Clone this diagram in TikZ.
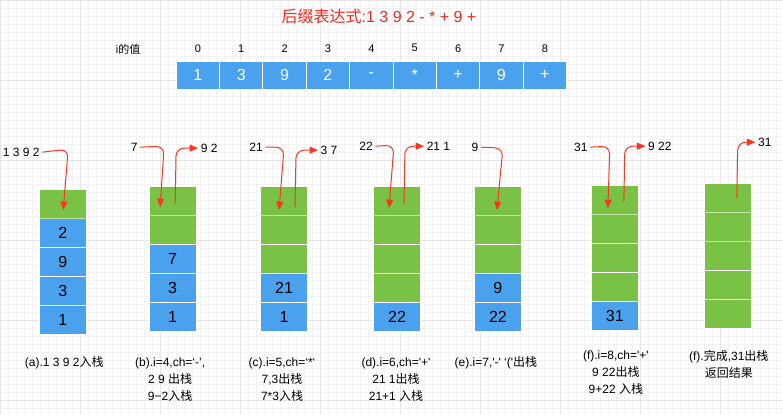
\documentclass[tikz,border=0pt]{standalone}
\usepackage{fontspec}
\newfontfamily\cjk{Noto Sans CJK SC}
\newfontfamily\lat{Liberation Sans}
\newcommand{\zh}[1]{{\cjk #1}}
\usetikzlibrary{arrows.meta}

\definecolor{cellblue}{RGB}{74,161,238}
\definecolor{cellgreen}{RGB}{122,194,70}
\definecolor{sepgreen}{RGB}{196,228,166}
\definecolor{arrowred}{RGB}{250,55,30}
\definecolor{titlered}{RGB}{245,40,30}

\begin{document}
\begin{tikzpicture}[x=1pt, y=-1pt,
  every node/.style={font=\lat\fontsize{12}{17}\selectfont, inner sep=0pt},
  arrcell/.style={draw=white, line width=1pt, fill=cellblue, text=white,
    minimum width=43.4pt, minimum height=28pt, font=\lat\fontsize{16}{16}\selectfont},
  cell/.style={draw=white, line width=1pt, minimum width=47pt, minimum height=29pt,
    font=\lat\fontsize{16}{16}\selectfont},
  idx/.style={font=\lat\fontsize{11}{11}\selectfont},
  lbl/.style={inner xsep=2.5pt},
  sep/.style={sepgreen, line width=1pt},
  flow/.style={arrowred, line width=1pt, rounded corners=8pt,
    -{Triangle[length=8.5pt,width=7pt]}},
  caption/.style={align=center},
]

%% =============== Background grid ===============
\fill[white] (0,0) rectangle (783,414);
\draw[black!5, line width=0.4pt, step=8pt] (0,414) grid (783,0);
\draw[black!10, line width=0.5pt, step=80pt] (0,414) grid (783,0);
\useasboundingbox (0,0) rectangle (783,414);

%% =============== Title and input array ===============
\node[font=\lat\fontsize{16}{16}\selectfont, text=titlered] (title) at (379,16)
  {\zh{后缀表达式}:1 3 9 2 - * + 9 +};

\node[idx] (ilabel) at (128,49) {i\zh{的值}};
\foreach \v [count=\i from 0] in {1,3,9,2,-,*,+,9,+} {
  \node[arrcell] (arr\i) at ({197.7+43.4*\i},75) {\v};
  \node[idx] (idx\i) at ({197.7+43.4*\i},48) {\i};
}

%% =============== (a) push 1 3 9 2 ===============
\foreach \col/\val [count=\i] in {cellgreen/{},cellblue/2,cellblue/9,cellblue/3,cellblue/1}
  \node[cell, fill=\col] (a\i) at (62.5,{174.5+29*\i}) {\val};
\draw[sep] (a1.south west) -- (a1.south east);

\node[lbl] (inA) at (21,152) {1 3 9 2};
\coordinate (aTip) at (63,210);
\draw[flow] (inA.east) -- (68,149) -- (aTip);

\node[caption] (capA) at (64,363) {(a).1 3 9 2\zh{入栈}};

%% =============== (b) i=4, ch='-' ===============
\foreach \col/\val [count=\i] in {cellgreen/{},cellgreen/{},cellblue/7,cellblue/3,cellblue/1}
  \node[cell, fill=\col] (b\i) at (172.5,{171.5+29*\i}) {\val};
\draw[sep] (b1.south west) -- (b1.south east);

\node[lbl] (inB) at (134,147) {7};
\node[lbl] (outB) at (209,148) {9 2};
\coordinate (bTip) at (160,207);
\coordinate (bOut) at (175,204);
\draw[flow] (inB.east) -- (164,146) -- (bTip);
\draw[flow] (bOut) -- (176,148) -- (outB.west);

\node[caption] (capB) at (170,380) {(b).i=4,ch=‘-’,\\2 9 \zh{出栈}\\9−2\zh{入栈}};

%% =============== (c) i=5, ch='*' ===============
\foreach \col/\val [count=\i] in {cellgreen/{},cellgreen/{},cellgreen/{},cellblue/21,cellblue/1}
  \node[cell, fill=\col] (c\i) at (284,{171.5+29*\i}) {\val};
\draw[sep] (c1.south west) -- (c1.south east);

\node[lbl] (inC) at (256,147) {21};
\node[lbl] (outC) at (329,150) {3 7};
\coordinate (cTip) at (279,210);
\coordinate (cOut) at (295,207);
\draw[flow] (inC.east) -- (284,147) -- (cTip);
\draw[flow] (cOut) -- (296,150) -- (outC.west);

\node[caption] (capC) at (282,380) {(c).i=5,ch=‘*‘\\7,3\zh{出栈}\\7*3\zh{入栈}};

%% =============== (d) i=6, ch='+' ===============
\foreach \col/\val [count=\i] in {cellgreen/{},cellgreen/{},cellgreen/{},cellgreen/{},cellblue/22}
  \node[cell, fill=\col] (d\i) at (397,{171.5+29*\i}) {\val};
\draw[sep] (d1.south west) -- (d1.south east);

\node[lbl] (inD) at (366,146) {22};
\node[lbl] (outD) at (438.5,146) {21 1};
\coordinate (dTip) at (389,208);
\coordinate (dOut) at (404,204);
\draw[flow] (inD.east) -- (394,145) -- (dTip);
\draw[flow] (dOut) -- (405,146) -- (outD.west);

\node[caption] (capD) at (396,380) {(d).i=6,ch='+'\\21 1\zh{出栈}\\21+1 \zh{入栈}};

%% =============== (e) i=7 ===============
\foreach \col/\val [count=\i] in {cellgreen/{},cellgreen/{},cellgreen/{},cellblue/9,cellblue/22}
  \node[cell, fill=\col] (e\i) at (498,{171.5+29*\i}) {\val};
\draw[sep] (e1.south west) -- (e1.south east);

\node[lbl] (inE) at (475,147) {9};
\coordinate (eTip) at (497,210);
\draw[flow] (inE.east) -- (503,148) -- (eTip);

\node[caption] (capE) at (496,363) {(e).i=7,'-' ‘('\zh{出栈}};

%% =============== (f) i=8, ch='+' ===============
\foreach \col/\val [count=\i] in {cellgreen/{},cellgreen/{},cellgreen/{},cellgreen/{},cellblue/31}
  \node[cell, fill=\col] (f\i) at (615,{170.5+29*\i}) {\val};
\draw[sep] (f1.south west) -- (f1.south east);

\node[lbl] (inF) at (581,147) {31};
\node[lbl] (outF) at (660,146) {9 22};
\coordinate (fTip) at (608,208);
\coordinate (fOut) at (624,202);
\draw[flow] (inF.east) -- (610,146) -- (fTip);
\draw[flow] (fOut) -- (625,146) -- (outF.west);

\node[caption] (capF) at (616,373) {(f).i=8,ch='+'\\9 22\zh{出栈}\\9+22 \zh{入栈}};

%% =============== (g) done, pop result ===============
\foreach \val [count=\i] in {{},{},{},{},{}}
  \node[cell, fill=cellgreen] (g\i) at (728,{168.5+29*\i}) {\val};
\draw[sep] (g1.south west) -- (g1.south east);
\draw[sep] (g2.south west) -- (g2.south east);

\node[lbl] (outG) at (765,142) {31};
\coordinate (gOut) at (737,198);
\draw[flow] (gOut) -- (738,142) -- (outG.west);

\node[caption] (capG) at (729,364) {(f).\zh{完成},31\zh{出栈}\\\zh{返回结果}};

\end{tikzpicture}
\end{document}
